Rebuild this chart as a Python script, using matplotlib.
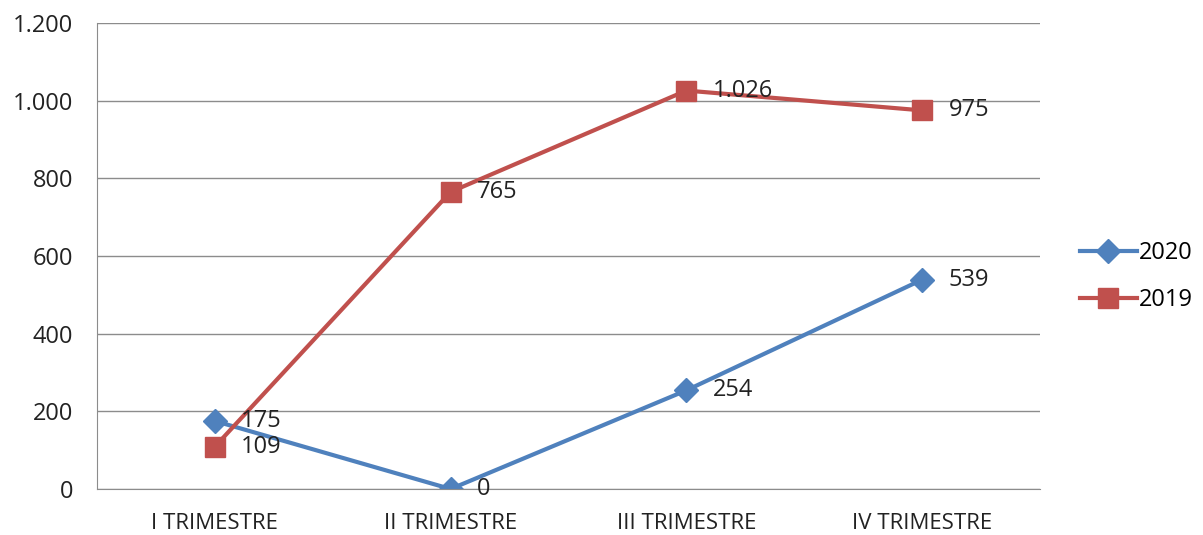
import matplotlib.pyplot as plt
from matplotlib.ticker import FuncFormatter

plt.rcParams['font.family'] = ['Open Sans', 'DejaVu Sans']

trimestri = ['I TRIMESTRE', 'II TRIMESTRE', 'III TRIMESTRE', 'IV TRIMESTRE']
v2020 = [175, 0, 254, 539]
v2019 = [109, 765, 1026, 975]

fig = plt.figure(figsize=(12.03, 5.35), dpi=100)
ax = fig.add_axes([0.0806, 0.086, 0.7839, 0.871])

x = range(len(trimestri))
ax.plot(x, v2020, color='#4F81BD', lw=3, marker='D', ms=12, label='2020')
ax.plot(x, v2019, color='#C0504D', lw=3, marker='s', ms=14, label='2019')


def fmt(v, pos=None):
    return f'{v:,.0f}'.replace(',', '.')


for xi, v in zip(x, v2020):
    ax.annotate(fmt(v), (xi, v), xytext=(19, 0), textcoords='offset points',
                va='center', ha='left', fontsize=17, color='#222222')
for xi, v in zip(x, v2019):
    ax.annotate(fmt(v), (xi, v), xytext=(19, 0), textcoords='offset points',
                va='center', ha='left', fontsize=17, color='#222222')

ax.set_xlim(-0.5, 3.5)
ax.set_ylim(0, 1200)
ax.set_yticks(range(0, 1201, 200))
ax.yaxis.set_major_formatter(FuncFormatter(fmt))
ax.set_xticks(list(x))
ax.set_xticklabels(trimestri)
ax.grid(axis='y', color='#8c8c8c', lw=1)
ax.set_axisbelow(True)
for s in ['top', 'right']:
    ax.spines[s].set_visible(False)
ax.spines['left'].set_color('#8c8c8c')
ax.spines['bottom'].set_color('#8c8c8c')
ax.tick_params(axis='y', length=0, pad=17, labelsize=17, colors='#222222')
ax.tick_params(axis='x', length=0, pad=17, labelsize=16, colors='#222222')

fig.legend(loc='center left', bbox_to_anchor=(0.88, 0.483), frameon=False,
           fontsize=17, handlelength=2.4, labelspacing=1.0, handletextpad=0.1)

fig.savefig('out.png')
